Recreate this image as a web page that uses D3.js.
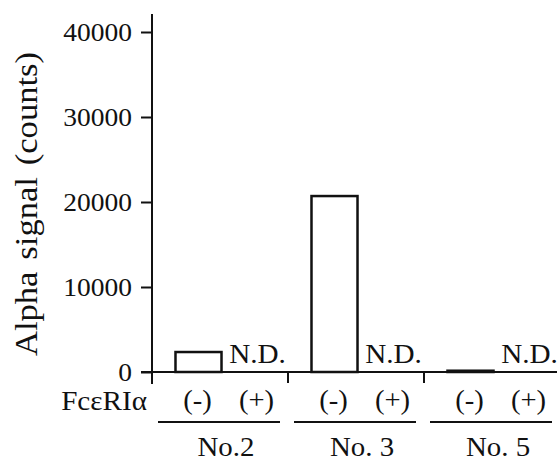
<!DOCTYPE html>
<html><head><meta charset="utf-8">
<script src="https://cdn.jsdelivr.net/npm/d3@7"></script>
<style>body{margin:0;background:#fff}svg{display:block}text{font-family:"Liberation Serif","Times New Roman",serif;fill:#111}</style>
</head><body><svg id="c" width="557" height="462"></svg>
<script>
const groups = ["No.2", "No. 3", "No. 5"];
const conditions = ["(-)", "(+)"];
const valuesMinus = [2350, 20700, 150];
const valuesPlus = [null, null, null]; // N.D.
const yTicks = [0, 10000, 20000, 30000, 40000];
const yTitle = "Alpha signal (counts)";
const xTitle = "FcεRIα";
const ndLabel = "N.D.";

const svg = d3.select("#c");
const y = d3.scaleLinear().domain([0, 40000]).range([372, 32]);
const x0 = d3.scaleBand().domain(groups).range([152, 560]);
const x1 = d3.scaleBand().domain(conditions).range([17, 135]).paddingInner(0.22).paddingOuter(0.11);

function stretch(sel, k) {
  sel.each(function () {
    const L = this.getComputedTextLength();
    d3.select(this).attr("textLength", L * k).attr("lengthAdjust", "spacingAndGlyphs");
  });
}

const data = [];
groups.forEach((g, i) => {
  data.push({g, c: conditions[0], v: valuesMinus[i]});
  data.push({g, c: conditions[1], v: valuesPlus[i]});
});

// y axis
const ax = svg.append("g").attr("transform", "translate(152,0)")
  .call(d3.axisLeft(y).tickValues(yTicks).tickSize(11).tickPadding(9).tickFormat(d3.format("d")));
ax.select(".domain").remove();
ax.selectAll(".tick line").attr("stroke", "#111").attr("stroke-width", 2);
ax.selectAll(".tick text").style("font-size", "25px").attr("fill", "#111").attr("dy", "0.34em")
  .call(stretch, 1.1);
svg.append("line").attr("x1", 152).attr("x2", 152).attr("y1", 14).attr("y2", 384)
  .attr("stroke", "#111").attr("stroke-width", 2);

// x axis baseline
svg.append("line").attr("x1", 141).attr("x2", 557).attr("y1", y(0)).attr("y2", y(0))
  .attr("stroke", "#111").attr("stroke-width", 2);
groups.slice(1).forEach(g => {
  svg.append("line").attr("x1", x0(g)).attr("x2", x0(g)).attr("y1", y(0)).attr("y2", 383)
    .attr("stroke", "#111").attr("stroke-width", 2);
});

// bars
const bars = data.filter(d => d.v != null);
svg.selectAll("rect.bar").data(bars).enter().append("rect")
  .attr("x", d => x0(d.g) + x1(d.c))
  .attr("width", x1.bandwidth())
  .attr("y", d => y(d.v))
  .attr("height", d => y(0) - y(d.v))
  .attr("fill", "#fff").attr("stroke", "#111").attr("stroke-width", 2.5);

// N.D. labels
svg.selectAll("text.nd").data(data.filter(d => d.v == null)).enter().append("text")
  .attr("x", d => x0(d.g) + x1(d.c) + x1.bandwidth() / 2)
  .attr("y", 363).attr("text-anchor", "middle").style("font-size", "27px").text(ndLabel)
  .call(stretch, 1.08);

// condition labels
svg.selectAll("text.cond").data(data).enter().append("text")
  .attr("x", d => x0(d.g) + x1(d.c) + x1.bandwidth() / 2 - 1)
  .attr("y", 409).attr("text-anchor", "middle").style("font-size", "27px").text(d => d.c)
  .call(stretch, 1.06);

svg.append("text").attr("x", 147).attr("y", 410).attr("text-anchor", "end")
  .style("font-size", "27px").text(xTitle).call(stretch, 1.08);

// group underlines and labels
groups.forEach(g => {
  svg.append("line").attr("x1", x0(g) + 6).attr("x2", Math.min(x0(g) + 128, 557))
    .attr("y1", 422).attr("y2", 422).attr("stroke", "#111").attr("stroke-width", 2);
  svg.append("text").attr("x", x0(g) + x0.bandwidth() / 2 + 6).attr("y", 456)
    .attr("text-anchor", "middle").style("font-size", "27px").text(g).call(stretch, 1.07);
});

// y title
svg.append("text").attr("transform", "translate(37,204) rotate(-90)")
  .attr("text-anchor", "middle").style("font-size", "32px").style("word-spacing", "3px").text(yTitle)
  .call(stretch, 1.08);
</script></body></html>
